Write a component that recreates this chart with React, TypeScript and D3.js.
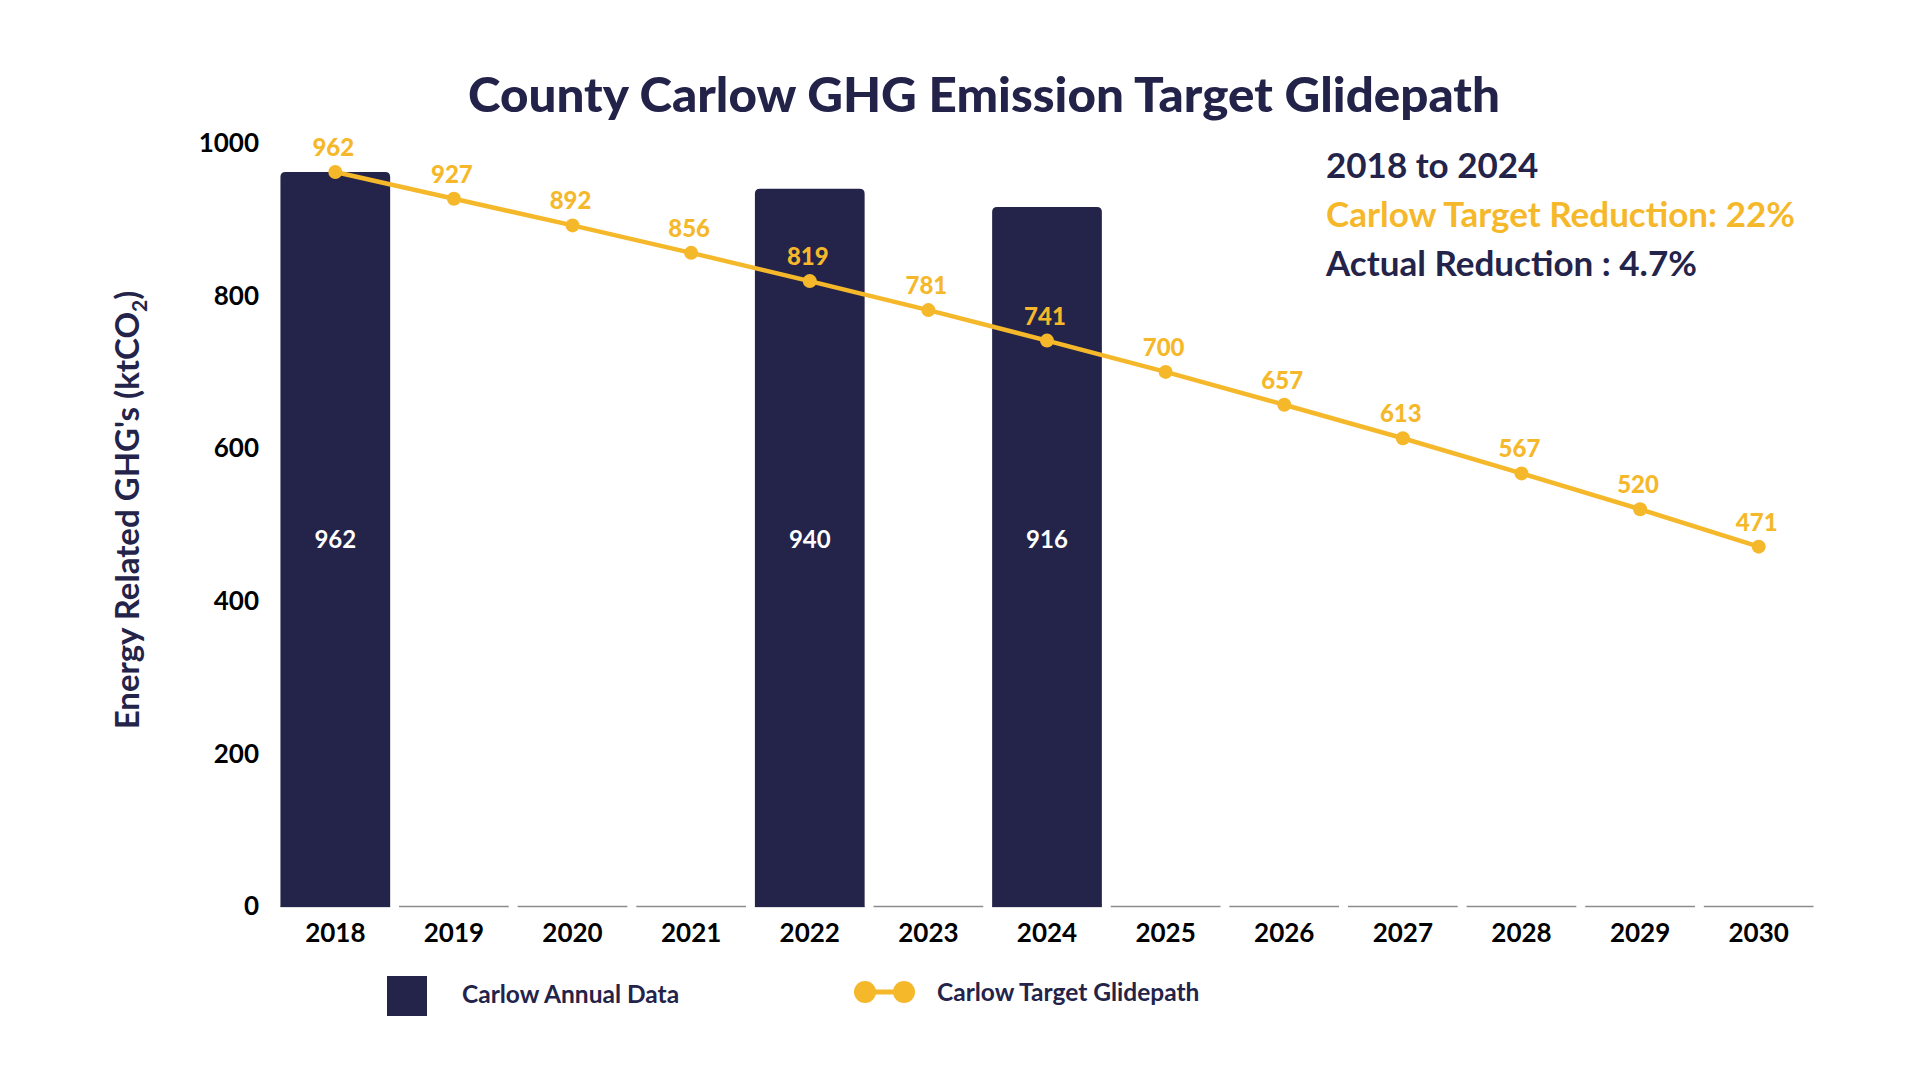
import React, { useEffect, useRef } from 'react'
import * as d3 from 'd3'

const years = ['2018', '2019', '2020', '2021', '2022', '2023', '2024', '2025', '2026', '2027', '2028', '2029', '2030']
const annualData: (number | null)[] = [962, null, null, null, 940, null, 916, null, null, null, null, null, null]
const glidepath = [962, 927, 892, 856, 819, 781, 741, 700, 657, 613, 567, 520, 471]
const yTicks = [0, 200, 400, 600, 800, 1000]

const title = 'County Carlow GHG Emission Target Glidepath'
const infoLines = ['2018 to 2024', 'Carlow Target Reduction: 22%', 'Actual Reduction : 4.7%']

const NAVY = '#24234a'
const GOLD = '#f6b82b'
const FONT = 'Lato, "Noto Sans", sans-serif'

// bar value labels sit at one common height inside the bars
const barLabelLevel = 480

const App: React.FC = () => {
  const svgRef = useRef<SVGSVGElement>(null)

  useEffect(() => {
    if (!svgRef.current) return
    const svg = d3.select(svgRef.current)
    svg.selectAll('*').remove()

    const x = d3.scaleBand<string>()
      .domain(years)
      .range([276, 1818])
      .paddingInner(0.075)
      .paddingOuter(0.0375)

    const y = d3.scaleLinear().domain([0, 1000]).range([906, 143])
    const cx = (yr: string) => (x(yr) || 0) + x.bandwidth() / 2

    // title
    svg.append('text')
      .attr('x', 984)
      .attr('y', 112)
      .attr('text-anchor', 'middle')
      .style('font-family', FONT)
      .style('font-weight', 900)
      .style('font-size', '48px')
      .attr('textLength', 1032)
      .attr('lengthAdjust', 'spacingAndGlyphs')
      .style('fill', '#23234a')
      .text(title)

    // y axis tick labels
    svg.append('g')
      .selectAll('text')
      .data(yTicks)
      .join('text')
      .attr('x', 259)
      .attr('y', d => y(d))
      .attr('dy', '0.35em')
      .attr('text-anchor', 'end')
      .style('font-family', FONT)
      .style('font-weight', 700)
      .style('font-size', '26px')
      .style('fill', '#000')
      .text(d => d)

    // y axis title
    const yTitle = svg.append('text')
      .attr('transform', 'translate(139,510) rotate(-90)')
      .attr('text-anchor', 'middle')
      .style('font-family', FONT)
      .style('font-weight', 700)
      .style('font-size', '33px')
      .style('fill', NAVY)
    yTitle.append('tspan').text("Energy Related GHG's (ktCO")
    yTitle.append('tspan').attr('dy', 8).style('font-size', '21px').text('2')
    yTitle.append('tspan').attr('dy', -8).text(')')

    // baseline segments per category
    svg.append('g')
      .selectAll('line')
      .data(years)
      .join('line')
      .attr('x1', d => x(d) || 0)
      .attr('x2', d => (x(d) || 0) + x.bandwidth())
      .attr('y1', y(0) + 0.5)
      .attr('y2', y(0) + 0.5)
      .attr('stroke', '#8c8c8c')
      .attr('stroke-width', 1.3)

    // bars with rounded top corners
    const r = 5
    const barData = years.map((yr, i) => ({ yr, v: annualData[i] })).filter(d => d.v !== null) as { yr: string, v: number }[]
    svg.append('g')
      .selectAll('path')
      .data(barData)
      .join('path')
      .attr('d', d => {
        const x0 = x(d.yr) || 0
        const x1 = x0 + x.bandwidth()
        const y0 = y(0) + 1
        const y1 = y(d.v)
        return `M${x0},${y0}V${y1 + r}Q${x0},${y1} ${x0 + r},${y1}H${x1 - r}Q${x1},${y1} ${x1},${y1 + r}V${y0}Z`
      })
      .attr('fill', NAVY)

    // bar value labels
    svg.append('g')
      .selectAll('text')
      .data(barData)
      .join('text')
      .attr('x', d => cx(d.yr))
      .attr('y', y(barLabelLevel))
      .attr('dy', '0.35em')
      .attr('text-anchor', 'middle')
      .style('font-family', FONT)
      .style('font-weight', 700)
      .style('font-size', '24px')
      .style('fill', '#fff')
      .text(d => d.v)

    // glidepath line
    const line = d3.line<number>()
      .x((_, i) => cx(years[i]))
      .y(d => y(d))
    svg.append('path')
      .datum(glidepath)
      .attr('d', line)
      .attr('fill', 'none')
      .attr('stroke', GOLD)
      .attr('stroke-width', 4.5)

    svg.append('g')
      .selectAll('circle')
      .data(glidepath)
      .join('circle')
      .attr('cx', (_, i) => cx(years[i]))
      .attr('cy', d => y(d))
      .attr('r', 7)
      .attr('fill', GOLD)

    svg.append('g')
      .selectAll('text')
      .data(glidepath)
      .join('text')
      .attr('x', (_, i) => cx(years[i]) - 2)
      .attr('y', d => y(d) - 16)
      .attr('text-anchor', 'middle')
      .style('font-family', FONT)
      .style('font-weight', 900)
      .style('font-size', '24px')
      .style('fill', GOLD)
      .text(d => d)

    // x axis labels
    svg.append('g')
      .selectAll('text')
      .data(years)
      .join('text')
      .attr('x', d => cx(d))
      .attr('y', 942)
      .attr('text-anchor', 'middle')
      .style('font-family', FONT)
      .style('font-weight', 700)
      .style('font-size', '26px')
      .style('fill', '#000')
      .text(d => d)

    // info block
    svg.append('g')
      .selectAll('text')
      .data(infoLines)
      .join('text')
      .attr('x', 1326)
      .attr('y', (_, i) => 178 + i * 49)
      .style('font-family', FONT)
      .style('font-weight', 700)
      .style('font-size', '35px')
      .style('fill', (_, i) => (i === 1 ? GOLD : NAVY))
      .text(d => d)

    // legend
    const legend = svg.append('g')
    legend.append('rect')
      .attr('x', 387).attr('y', 976).attr('width', 40).attr('height', 40)
      .attr('fill', NAVY)
    legend.append('text')
      .attr('x', 462).attr('y', 1003)
      .style('font-family', FONT).style('font-weight', 700).style('font-size', '24.5px')
      .style('fill', NAVY)
      .text('Carlow Annual Data')
    legend.append('line')
      .attr('x1', 865).attr('x2', 904).attr('y1', 992).attr('y2', 992)
      .attr('stroke', GOLD).attr('stroke-width', 5)
    legend.selectAll('circle')
      .data([865, 904])
      .join('circle')
      .attr('cx', d => d).attr('cy', 992).attr('r', 11)
      .attr('fill', GOLD)
    legend.append('text')
      .attr('x', 937).attr('y', 1001)
      .style('font-family', FONT).style('font-weight', 700).style('font-size', '24.5px')
      .style('fill', NAVY)
      .text('Carlow Target Glidepath')
  }, [])

  return (
    <div style={{ position: 'absolute', left: 0, top: 0, width: 1920, height: 1080, background: '#fff' }}>
      <svg ref={svgRef} width={1920} height={1080}></svg>
    </div>
  )
}

export default App
